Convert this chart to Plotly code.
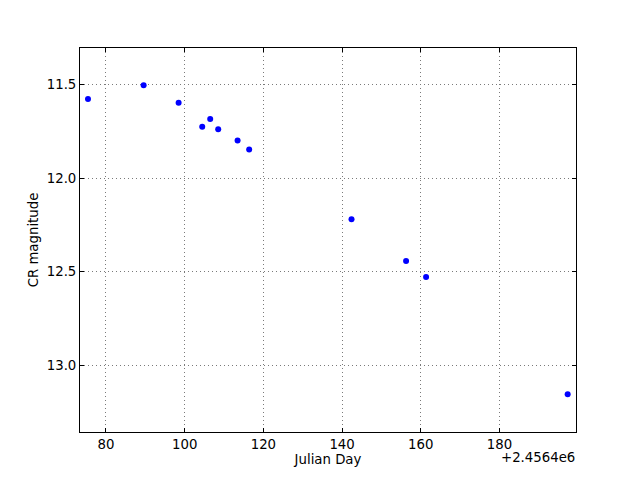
import plotly.graph_objects as go

jd_offset = 2456400
day = [75.43, 89.57, 98.46, 104.46, 106.49, 108.52, 113.45, 116.39, 142.40, 156.27, 161.35, 197.33]
mag = [11.578, 11.505, 11.598, 11.726, 11.685, 11.740, 11.799, 11.847, 12.220, 12.443, 12.528, 13.154]
x_ticks = [80, 100, 120, 140, 160, 180]
y_ticks = [11.5, 12.0, 12.5, 13.0]

jd = [jd_offset + d for d in day]

fig = go.Figure()
fig.add_trace(go.Scatter(
    x=jd, y=mag, mode="markers",
    marker=dict(color="#0000ff", size=6, line=dict(width=0)),
))

font = dict(family="DejaVu Sans", size=13.3, color="black")
axis_common = dict(
    showline=True, linecolor="black", linewidth=1, mirror="allticks",
    ticks="inside", ticklen=4, tickcolor="black",
    showgrid=True, gridcolor="#7a7a7a", griddash="1px,3px", gridwidth=1,
    zeroline=False, tickfont=font,
)
fig.update_xaxes(
    range=[jd_offset + 73.4, jd_offset + 199.45],
    tickvals=[jd_offset + t for t in x_ticks],
    ticktext=[str(t) for t in x_ticks],
    title=dict(text="Julian Day", font=font, standoff=1),
    **axis_common,
)
fig.update_yaxes(
    range=[13.355, 11.306],
    tickvals=y_ticks,
    ticktext=[f"{t:.1f}" for t in y_ticks],
    title=dict(text="CR magnitude", font=font, standoff=5),
    **axis_common,
)
fig.add_annotation(
    text="+2.4564e6", xref="paper", yref="paper", x=1.0, y=0, yshift=-17,
    xanchor="right", yanchor="top", showarrow=False, font=font,
    borderpad=0,
)
fig.update_layout(
    width=640, height=480,
    margin=dict(l=72, r=72, t=40, b=56),
    paper_bgcolor="white", plot_bgcolor="white",
    showlegend=False, font=font,
)
fig.write_html("out.html")
